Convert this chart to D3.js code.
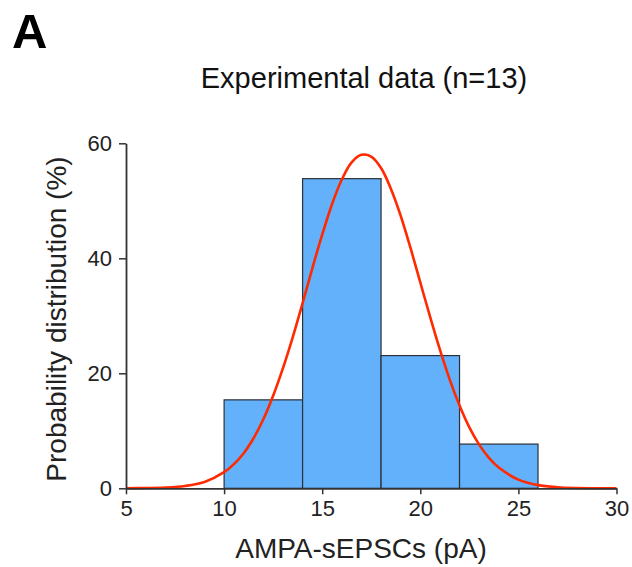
<!DOCTYPE html>
<html>
<head>
<meta charset="utf-8">
<script src="https://cdn.jsdelivr.net/npm/d3@7"></script>
<style>
  body { margin: 0; background: #fff; }
  svg { display: block; font-family: 'Liberation Sans', Arial, sans-serif; }
</style>
</head>
<body>
<div id="app"></div>
<script>
'use strict'

// histogram bins (pA) and their share of cells (%)
const binStarts = [10, 14, 18, 22]
const binWidth = 4
const binPercent = [15.38, 53.85, 23.08, 7.69]

// fitted curve
const curveX = [5, 6, 7, 8, 9, 10, 10.5, 11, 11.5, 12, 12.5, 13, 13.5, 14, 14.5, 15, 15.5, 16, 16.5, 17, 17.5,
  18, 18.5, 19, 19.5, 20, 20.5, 21, 21.5, 22, 22.5, 23, 23.5, 24, 25, 26, 27, 28, 29, 30]
const curveY = [0.01, 0.04, 0.13, 0.4, 1.1, 2.8, 4.2, 6.1, 8.7, 12.0, 16.1, 20.9, 26.3, 32.2, 38.3, 44.1, 49.4, 53.7, 56.7, 58.0, 57.7,
  55.7, 52.1, 47.4, 41.8, 35.8, 29.8, 24.1, 18.9, 14.4, 10.6, 7.6, 5.3, 3.6, 1.5, 0.55, 0.18, 0.05, 0.01, 0]

const xTicks = [5, 10, 15, 20, 25, 30]
const yTicks = [0, 20, 40, 60]

const width = 632
const height = 567
const margin = { left: 126, right: 15.5, top: 143.3, bottom: 78.7 }

const svg = d3.select('#app').append('svg')
  .attr('width', width)
  .attr('height', height)

const x = d3.scaleLinear().domain([5, 30]).range([margin.left, width - margin.right])
const y = d3.scaleLinear().domain([0, 60]).range([height - margin.bottom, margin.top])

// bars
svg.append('g')
  .selectAll('rect')
  .data(binStarts)
  .enter().append('rect')
  .attr('x', d => x(d))
  .attr('width', d => x(d + binWidth) - x(d))
  .attr('y', (d, i) => y(binPercent[i]))
  .attr('height', (d, i) => y(0) - y(binPercent[i]))
  .style('fill', '#63b1fb')
  .style('stroke', '#2b2f36')
  .style('stroke-width', 1.2)

// fitted gaussian
const line = d3.line()
  .x((d, i) => x(curveX[i]))
  .y(d => y(d))
  .curve(d3.curveCatmullRom)

svg.append('path')
  .datum(curveY)
  .attr('d', line)
  .style('fill', 'none')
  .style('stroke', '#ff2a00')
  .style('stroke-width', 2.6)

// axes
const xAxis = svg.append('g')
  .attr('transform', `translate(0, ${y(0)})`)
  .call(d3.axisBottom(x).tickValues(xTicks).tickSize(6).tickSizeOuter(0).tickPadding(6))

const yAxis = svg.append('g')
  .attr('transform', `translate(${x(5)}, 0)`)
  .call(d3.axisLeft(y).tickValues(yTicks).tickSize(7).tickSizeOuter(0).tickPadding(7))

;[xAxis, yAxis].forEach(a => {
  a.select('.domain').style('stroke', '#333').style('stroke-width', 1.8)
  a.selectAll('.tick line').style('stroke', '#333').style('stroke-width', 1.5)
  a.selectAll('.tick text')
    .style('font-family', "'Liberation Sans', Arial, sans-serif")
    .style('font-size', '22px')
    .style('fill', '#222')
})

// labels
svg.append('text')
  .attr('x', 12)
  .attr('y', 48)
  .text('A')
  .style('font-size', '49px')
  .style('font-weight', 'bold')

svg.append('text')
  .attr('x', 364)
  .attr('y', 88)
  .attr('text-anchor', 'middle')
  .text('Experimental data (n=13)')
  .style('font-size', '29px')
  .style('fill', '#111')

svg.append('text')
  .attr('x', 361)
  .attr('y', 558)
  .attr('text-anchor', 'middle')
  .text('AMPA-sEPSCs (pA)')
  .style('font-size', '28px')
  .style('fill', '#222')

svg.append('text')
  .attr('transform', 'translate(66, 319) rotate(-90)')
  .attr('text-anchor', 'middle')
  .text('Probability distribution (%)')
  .style('font-size', '28px')
  .style('fill', '#222')
</script>
</body>
</html>
